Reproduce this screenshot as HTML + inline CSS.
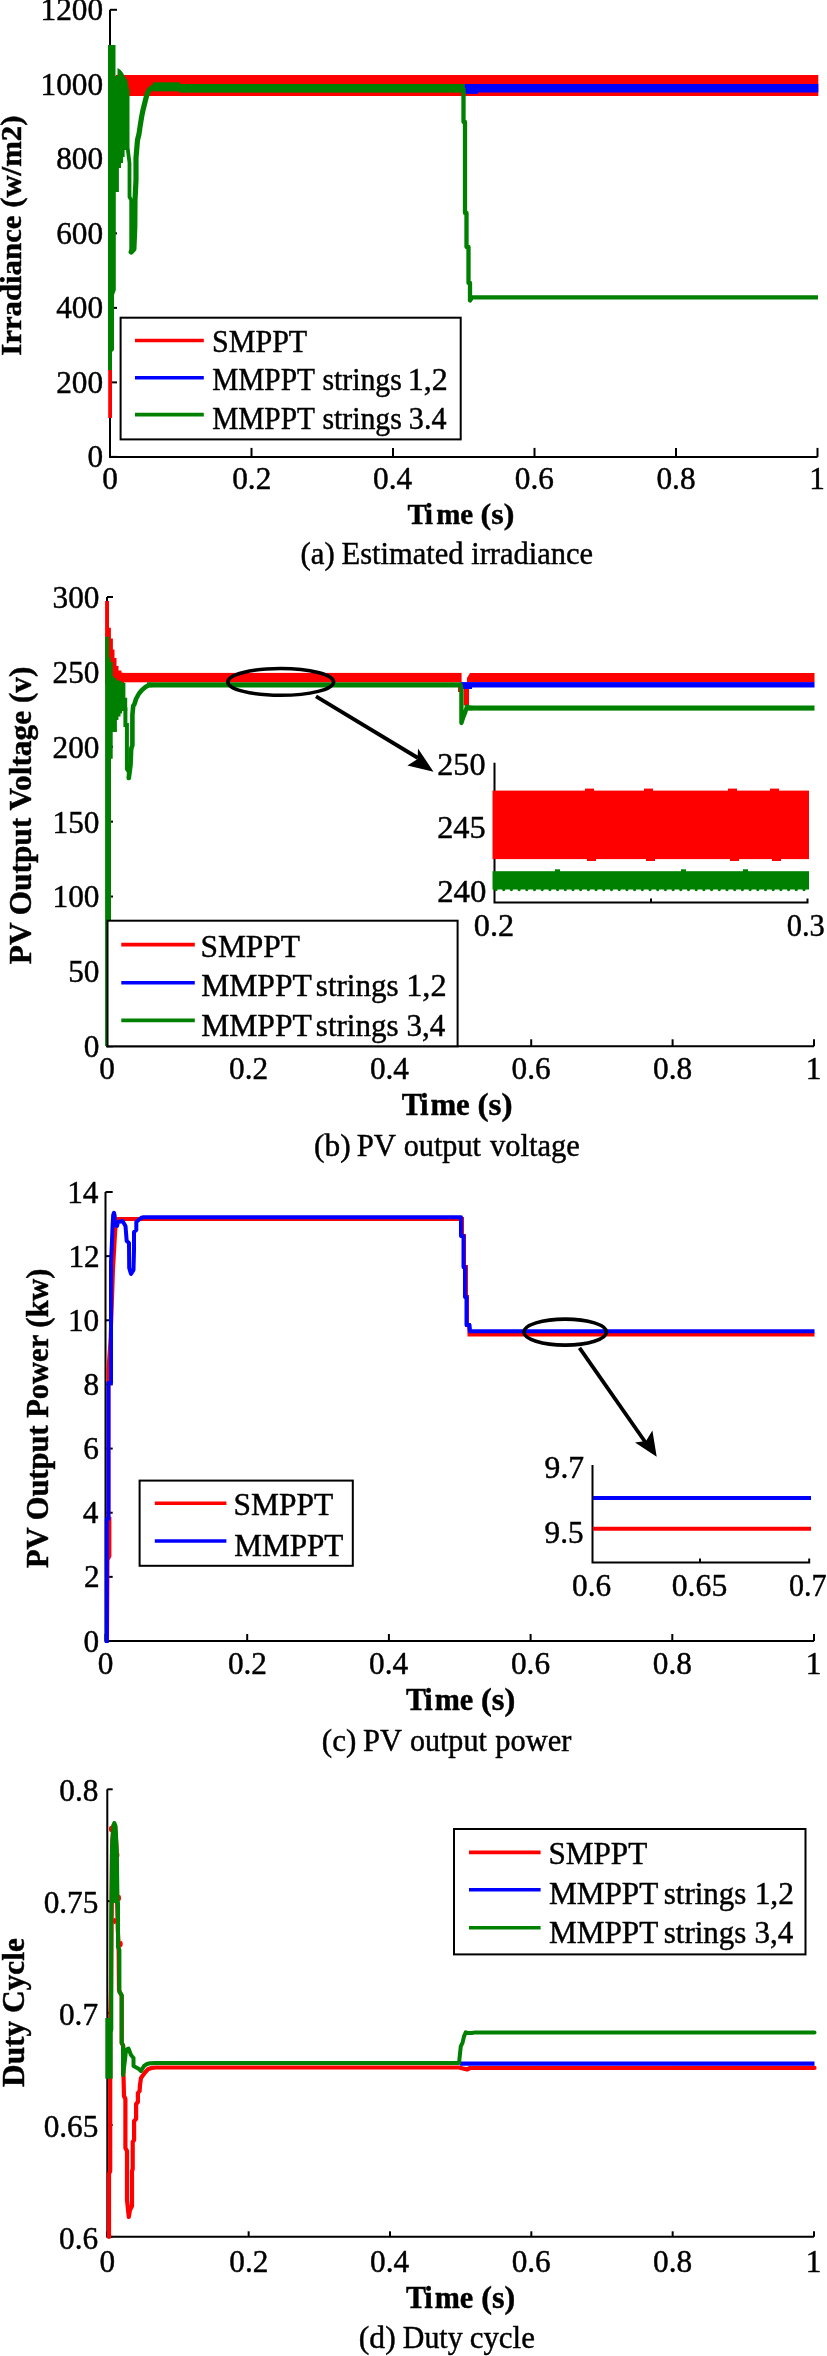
<!DOCTYPE html>
<html><head><meta charset="utf-8"><style>
html,body{margin:0;padding:0;background:#fff;}
svg{display:block;will-change:transform;}
text{font-family:"Liberation Serif",serif;fill:#000;stroke:#000;stroke-width:0.45px;}
</style></head><body>
<svg width="827" height="2356" viewBox="0 0 827 2356">
<rect x="0" y="0" width="827" height="2356" fill="#fff"/>
<path d="M110,9.8 L110,456.9 L817.5,456.9" fill="none" stroke="#000000" stroke-width="2" stroke-linejoin="miter"/>
<line x1="110.0" y1="456.9" x2="110.0" y2="447.9" stroke="#000000" stroke-width="2" stroke-linecap="butt"/>
<text x="102.17" y="488.70" font-size="31.30" textLength="15.65" lengthAdjust="spacingAndGlyphs">0</text>
<line x1="251.5" y1="456.9" x2="251.5" y2="447.9" stroke="#000000" stroke-width="2" stroke-linecap="butt"/>
<text x="232.20" y="488.70" font-size="31.30" textLength="39.12" lengthAdjust="spacingAndGlyphs">0.2</text>
<line x1="393.0" y1="456.9" x2="393.0" y2="447.9" stroke="#000000" stroke-width="2" stroke-linecap="butt"/>
<text x="373.09" y="488.70" font-size="31.30" textLength="39.12" lengthAdjust="spacingAndGlyphs">0.4</text>
<line x1="534.5" y1="456.9" x2="534.5" y2="447.9" stroke="#000000" stroke-width="2" stroke-linecap="butt"/>
<text x="514.81" y="488.70" font-size="31.30" textLength="39.12" lengthAdjust="spacingAndGlyphs">0.6</text>
<line x1="676.0" y1="456.9" x2="676.0" y2="447.9" stroke="#000000" stroke-width="2" stroke-linecap="butt"/>
<text x="656.44" y="488.70" font-size="31.30" textLength="39.13" lengthAdjust="spacingAndGlyphs">0.8</text>
<line x1="817.5" y1="456.9" x2="817.5" y2="447.9" stroke="#000000" stroke-width="2" stroke-linecap="butt"/>
<text x="809.24" y="488.70" font-size="31.30" textLength="15.65" lengthAdjust="spacingAndGlyphs">1</text>
<line x1="110" y1="456.9" x2="117" y2="456.9" stroke="#000000" stroke-width="2" stroke-linecap="butt"/>
<text x="87.44" y="467.15" font-size="31.30" textLength="15.65" lengthAdjust="spacingAndGlyphs">0</text>
<line x1="110" y1="382.38" x2="117" y2="382.38" stroke="#000000" stroke-width="2" stroke-linecap="butt"/>
<text x="56.14" y="392.63" font-size="31.30" textLength="46.95" lengthAdjust="spacingAndGlyphs">200</text>
<line x1="110" y1="307.87" x2="117" y2="307.87" stroke="#000000" stroke-width="2" stroke-linecap="butt"/>
<text x="56.14" y="318.12" font-size="31.30" textLength="46.95" lengthAdjust="spacingAndGlyphs">400</text>
<line x1="110" y1="233.35" x2="117" y2="233.35" stroke="#000000" stroke-width="2" stroke-linecap="butt"/>
<text x="56.14" y="243.60" font-size="31.30" textLength="46.95" lengthAdjust="spacingAndGlyphs">600</text>
<line x1="110" y1="158.83" x2="117" y2="158.83" stroke="#000000" stroke-width="2" stroke-linecap="butt"/>
<text x="56.14" y="169.08" font-size="31.30" textLength="46.95" lengthAdjust="spacingAndGlyphs">800</text>
<line x1="110" y1="84.32" x2="117" y2="84.32" stroke="#000000" stroke-width="2" stroke-linecap="butt"/>
<text x="40.49" y="94.57" font-size="31.30" textLength="62.60" lengthAdjust="spacingAndGlyphs">1000</text>
<line x1="110" y1="9.8" x2="117" y2="9.8" stroke="#000000" stroke-width="2" stroke-linecap="butt"/>
<text x="40.49" y="20.05" font-size="31.30" textLength="62.60" lengthAdjust="spacingAndGlyphs">1200</text>
<rect x="115.7" y="75" width="702.6" height="21" fill="#ff0000"/>
<rect x="464" y="84" width="354.3" height="8.5" fill="#0000ff"/>
<rect x="179" y="84" width="285.8" height="8.6" fill="#008000"/>
<rect x="153" y="82.3" width="27" height="9.1" fill="#008000"/>
<polygon points="108,45 115.5,45 115.5,76 117.5,76 117.5,68 120.6,70 123,73 125,77 127.3,80 128.5,88 129.5,90 129.5,150 124.6,150 124.6,157 123.1,157 123.1,163 121,163 121,168 118.9,168 118.9,192 115.8,192 115.8,290 114,295 114,350 112,352 112,370 108,370" fill="#008000"/>
<rect x="108.2" y="370" width="3.8" height="48" fill="#ff0000"/>
<polyline points="127.9,150 129.5,163 129.5,197 131.2,200 131.2,252" fill="none" stroke="#008000" stroke-width="3.8" stroke-linejoin="miter" stroke-linecap="round"/>
<polyline points="131.2,252 133.9,249 134.8,227 135,200 136,180 136,158 137.5,140 139,134 140,127 141.6,117 143,110 144.5,104 146,98 147.6,93 149.5,89.5 151.5,88 154,86.5 156,86.8" fill="none" stroke="#008000" stroke-width="5.2" stroke-linejoin="round" stroke-linecap="round"/>
<polyline points="463.5,88 463.5,122 465,122 465,213 466.5,213 466.5,247 468.5,247 468.5,283 470,283 470,300.5 472,297.4 818,297.4" fill="none" stroke="#008000" stroke-width="4.3" stroke-linejoin="round" stroke-linecap="butt"/>
<rect x="466" y="91" width="12" height="2.9" fill="#0000ff"/>
<path d="M107,597 L107,1046.3 L814,1046.3" fill="none" stroke="#000000" stroke-width="2" stroke-linejoin="miter"/>
<line x1="107.0" y1="1046.3" x2="107.0" y2="1039.3" stroke="#000000" stroke-width="2" stroke-linecap="butt"/>
<text x="99.17" y="1078.90" font-size="31.30" textLength="15.65" lengthAdjust="spacingAndGlyphs">0</text>
<line x1="248.4" y1="1046.3" x2="248.4" y2="1039.3" stroke="#000000" stroke-width="2" stroke-linecap="butt"/>
<text x="229.10" y="1078.90" font-size="31.30" textLength="39.13" lengthAdjust="spacingAndGlyphs">0.2</text>
<line x1="389.8" y1="1046.3" x2="389.8" y2="1039.3" stroke="#000000" stroke-width="2" stroke-linecap="butt"/>
<text x="369.89" y="1078.90" font-size="31.30" textLength="39.12" lengthAdjust="spacingAndGlyphs">0.4</text>
<line x1="531.2" y1="1046.3" x2="531.2" y2="1039.3" stroke="#000000" stroke-width="2" stroke-linecap="butt"/>
<text x="511.51" y="1078.90" font-size="31.30" textLength="39.12" lengthAdjust="spacingAndGlyphs">0.6</text>
<line x1="672.6" y1="1046.3" x2="672.6" y2="1039.3" stroke="#000000" stroke-width="2" stroke-linecap="butt"/>
<text x="653.04" y="1078.90" font-size="31.30" textLength="39.13" lengthAdjust="spacingAndGlyphs">0.8</text>
<line x1="814.0" y1="1046.3" x2="814.0" y2="1039.3" stroke="#000000" stroke-width="2" stroke-linecap="butt"/>
<text x="805.74" y="1078.90" font-size="31.30" textLength="15.65" lengthAdjust="spacingAndGlyphs">1</text>
<line x1="107" y1="1046.3" x2="113" y2="1046.3" stroke="#000000" stroke-width="2" stroke-linecap="butt"/>
<text x="83.84" y="1057.25" font-size="31.30" textLength="15.65" lengthAdjust="spacingAndGlyphs">0</text>
<line x1="107" y1="971.42" x2="113" y2="971.42" stroke="#000000" stroke-width="2" stroke-linecap="butt"/>
<text x="68.19" y="982.37" font-size="31.30" textLength="31.30" lengthAdjust="spacingAndGlyphs">50</text>
<line x1="107" y1="896.53" x2="113" y2="896.53" stroke="#000000" stroke-width="2" stroke-linecap="butt"/>
<text x="52.54" y="907.48" font-size="31.30" textLength="46.95" lengthAdjust="spacingAndGlyphs">100</text>
<line x1="107" y1="821.65" x2="113" y2="821.65" stroke="#000000" stroke-width="2" stroke-linecap="butt"/>
<text x="52.54" y="832.60" font-size="31.30" textLength="46.95" lengthAdjust="spacingAndGlyphs">150</text>
<line x1="107" y1="746.77" x2="113" y2="746.77" stroke="#000000" stroke-width="2" stroke-linecap="butt"/>
<text x="52.54" y="757.72" font-size="31.30" textLength="46.95" lengthAdjust="spacingAndGlyphs">200</text>
<line x1="107" y1="671.88" x2="113" y2="671.88" stroke="#000000" stroke-width="2" stroke-linecap="butt"/>
<text x="52.54" y="682.83" font-size="31.30" textLength="46.95" lengthAdjust="spacingAndGlyphs">250</text>
<line x1="107" y1="597.0" x2="113" y2="597.0" stroke="#000000" stroke-width="2" stroke-linecap="butt"/>
<text x="52.54" y="607.95" font-size="31.30" textLength="46.95" lengthAdjust="spacingAndGlyphs">300</text>
<rect x="123" y="672.9" width="338.6" height="9.4" fill="#ff0000"/>
<polygon points="467,682.3 467,678 470,672.9 814.5,672.9 814.5,682.3" fill="#ff0000"/>
<rect x="461" y="682.1" width="353.5" height="5.4" fill="#0000ff"/>
<rect x="463" y="687" width="9" height="2" fill="#0000ff"/>
<rect x="147" y="682.3" width="314" height="5.2" fill="#008000"/>
<rect x="468" y="705.5" width="346.5" height="5.1" fill="#008000"/>
<polygon points="105.1,601 109,601 109,627.7 110.9,627.7 110.9,638.5 112.9,638.5 112.9,649.4 114.5,649.4 114.5,658.1 116.5,658.1 116.5,666.1 118.5,666.1 118.5,670.5 121.5,670.5 121.5,672.6 124,672.9 124,683.5 105.1,683.5" fill="#ff0000"/>
<polygon points="105.1,636.7 109,636.7 109,657.4 110.5,657.4 110.5,662 112.7,662 112.7,676 113.8,676 113.8,678 116.5,678 116.5,680.5 120,680.5 120,681.6 122.5,681.6 122.5,682.7 125.4,682.7 125.4,697.7 127.2,697.7 127.2,711 122.1,711 122.1,713.4 120.5,713.4 120.5,716.4 118.4,716.4 118.4,720 116.9,720 116.9,732 112.7,732 112.7,758.8 111,758.8 111,1046 105.1,1046" fill="#008000"/>
<polyline points="125.4,708 125.4,725 126.9,725 126.9,769 128.8,772 128.8,778" fill="none" stroke="#008000" stroke-width="4" stroke-linejoin="miter" stroke-linecap="round"/>
<polyline points="128.8,778 130.5,765 131.2,749 132.4,745 132.4,715 133.2,706 134.5,704 136,699 139,693.5 142,690 145.5,687 149,685 152,685" fill="none" stroke="#008000" stroke-width="4.6" stroke-linejoin="round" stroke-linecap="round"/>
<rect x="463.6" y="689" width="5.4" height="16.5" fill="#ff0000"/>
<rect x="458" y="687" width="2.5" height="5" fill="#ff0000"/>
<polyline points="460.5,684.7 461.4,690 461.4,723 463,718 465,713 467,706.5 470,708 472,708" fill="none" stroke="#008000" stroke-width="4.3" stroke-linejoin="round" stroke-linecap="round"/>
<path d="M105.5,1192 L105.5,1641 L814,1641" fill="none" stroke="#000000" stroke-width="2" stroke-linejoin="miter"/>
<line x1="105.5" y1="1641" x2="105.5" y2="1634" stroke="#000000" stroke-width="2" stroke-linecap="butt"/>
<text x="97.67" y="1673.70" font-size="31.30" textLength="15.65" lengthAdjust="spacingAndGlyphs">0</text>
<line x1="247.2" y1="1641" x2="247.2" y2="1634" stroke="#000000" stroke-width="2" stroke-linecap="butt"/>
<text x="227.90" y="1673.70" font-size="31.30" textLength="39.12" lengthAdjust="spacingAndGlyphs">0.2</text>
<line x1="388.9" y1="1641" x2="388.9" y2="1634" stroke="#000000" stroke-width="2" stroke-linecap="butt"/>
<text x="368.99" y="1673.70" font-size="31.30" textLength="39.12" lengthAdjust="spacingAndGlyphs">0.4</text>
<line x1="530.6" y1="1641" x2="530.6" y2="1634" stroke="#000000" stroke-width="2" stroke-linecap="butt"/>
<text x="510.91" y="1673.70" font-size="31.30" textLength="39.12" lengthAdjust="spacingAndGlyphs">0.6</text>
<line x1="672.3" y1="1641" x2="672.3" y2="1634" stroke="#000000" stroke-width="2" stroke-linecap="butt"/>
<text x="652.74" y="1673.70" font-size="31.30" textLength="39.13" lengthAdjust="spacingAndGlyphs">0.8</text>
<line x1="814.0" y1="1641" x2="814.0" y2="1634" stroke="#000000" stroke-width="2" stroke-linecap="butt"/>
<text x="805.74" y="1673.70" font-size="31.30" textLength="15.65" lengthAdjust="spacingAndGlyphs">1</text>
<line x1="105.5" y1="1641.0" x2="112.7" y2="1641.0" stroke="#000000" stroke-width="2" stroke-linecap="butt"/>
<text x="83.54" y="1651.55" font-size="31.30" textLength="15.65" lengthAdjust="spacingAndGlyphs">0</text>
<line x1="105.5" y1="1576.86" x2="112.7" y2="1576.86" stroke="#000000" stroke-width="2" stroke-linecap="butt"/>
<text x="84.08" y="1587.41" font-size="31.30" textLength="15.65" lengthAdjust="spacingAndGlyphs">2</text>
<line x1="105.5" y1="1512.71" x2="112.7" y2="1512.71" stroke="#000000" stroke-width="2" stroke-linecap="butt"/>
<text x="82.84" y="1523.27" font-size="31.30" textLength="15.65" lengthAdjust="spacingAndGlyphs">4</text>
<line x1="105.5" y1="1448.57" x2="112.7" y2="1448.57" stroke="#000000" stroke-width="2" stroke-linecap="butt"/>
<text x="83.28" y="1459.12" font-size="31.30" textLength="15.65" lengthAdjust="spacingAndGlyphs">6</text>
<line x1="105.5" y1="1384.43" x2="112.7" y2="1384.43" stroke="#000000" stroke-width="2" stroke-linecap="butt"/>
<text x="83.54" y="1394.98" font-size="31.30" textLength="15.65" lengthAdjust="spacingAndGlyphs">8</text>
<line x1="105.5" y1="1320.29" x2="112.7" y2="1320.29" stroke="#000000" stroke-width="2" stroke-linecap="butt"/>
<text x="67.89" y="1330.84" font-size="31.30" textLength="31.30" lengthAdjust="spacingAndGlyphs">10</text>
<line x1="105.5" y1="1256.14" x2="112.7" y2="1256.14" stroke="#000000" stroke-width="2" stroke-linecap="butt"/>
<text x="68.43" y="1266.69" font-size="31.30" textLength="31.30" lengthAdjust="spacingAndGlyphs">12</text>
<line x1="105.5" y1="1192.0" x2="112.7" y2="1192.0" stroke="#000000" stroke-width="2" stroke-linecap="butt"/>
<text x="67.19" y="1202.55" font-size="31.30" textLength="31.30" lengthAdjust="spacingAndGlyphs">14</text>
<polyline points="107,1641 107.5,1560 109.4,1556 109.4,1519 108.5,1519 108.5,1369 110.5,1340 112,1300 113,1270 115,1235 116,1219 462,1219 462,1236 464,1236 464,1267 466,1267 466,1297 467,1297 467,1325 469,1325 469.5,1334.6 814.5,1334.6" fill="none" stroke="#ff0000" stroke-width="4" stroke-linejoin="miter" stroke-linecap="butt"/>
<polyline points="106.8,1643 106.8,1519 108.4,1519 108.4,1383 111,1383 111,1262 111.8,1245 112.6,1225 113.2,1215 114,1212.8 114.7,1216 114.5,1225 117,1226 118,1222 122.5,1221 125.5,1226 126.7,1241 129,1243 129.2,1268 131,1274 133.5,1270 134,1250 134,1232 136.3,1230 136.3,1222 139,1219.5 141,1218 143.5,1217.2 461,1217.2 461,1236 463.5,1236 463.5,1267 465,1267 465,1297 466.5,1297 466.5,1325 469.5,1325 470,1331.3 814.5,1331.3" fill="none" stroke="#0000ff" stroke-width="4" stroke-linejoin="round" stroke-linecap="butt"/>
<path d="M107.3,1789.3 L107.3,2236.8 L814,2236.8" fill="none" stroke="#000000" stroke-width="2" stroke-linejoin="miter"/>
<line x1="107.3" y1="2236.8" x2="107.3" y2="2231.3" stroke="#000000" stroke-width="2" stroke-linecap="butt"/>
<text x="99.47" y="2271.90" font-size="31.30" textLength="15.65" lengthAdjust="spacingAndGlyphs">0</text>
<line x1="248.64" y1="2236.8" x2="248.64" y2="2231.3" stroke="#000000" stroke-width="2" stroke-linecap="butt"/>
<text x="229.34" y="2271.90" font-size="31.30" textLength="39.12" lengthAdjust="spacingAndGlyphs">0.2</text>
<line x1="389.98" y1="2236.8" x2="389.98" y2="2231.3" stroke="#000000" stroke-width="2" stroke-linecap="butt"/>
<text x="370.07" y="2271.90" font-size="31.30" textLength="39.12" lengthAdjust="spacingAndGlyphs">0.4</text>
<line x1="531.32" y1="2236.8" x2="531.32" y2="2231.3" stroke="#000000" stroke-width="2" stroke-linecap="butt"/>
<text x="511.63" y="2271.90" font-size="31.30" textLength="39.12" lengthAdjust="spacingAndGlyphs">0.6</text>
<line x1="672.66" y1="2236.8" x2="672.66" y2="2231.3" stroke="#000000" stroke-width="2" stroke-linecap="butt"/>
<text x="653.10" y="2271.90" font-size="31.30" textLength="39.13" lengthAdjust="spacingAndGlyphs">0.8</text>
<line x1="814.0" y1="2236.8" x2="814.0" y2="2231.3" stroke="#000000" stroke-width="2" stroke-linecap="butt"/>
<text x="805.74" y="2271.90" font-size="31.30" textLength="15.65" lengthAdjust="spacingAndGlyphs">1</text>
<line x1="107.3" y1="2236.8" x2="112.7" y2="2236.8" stroke="#000000" stroke-width="2" stroke-linecap="butt"/>
<text x="59.01" y="2248.55" font-size="31.30" textLength="39.12" lengthAdjust="spacingAndGlyphs">0.6</text>
<line x1="107.3" y1="2124.93" x2="112.7" y2="2124.93" stroke="#000000" stroke-width="2" stroke-linecap="butt"/>
<text x="43.65" y="2136.68" font-size="31.30" textLength="54.77" lengthAdjust="spacingAndGlyphs">0.65</text>
<line x1="107.3" y1="2013.05" x2="112.7" y2="2013.05" stroke="#000000" stroke-width="2" stroke-linecap="butt"/>
<text x="58.98" y="2024.80" font-size="31.30" textLength="39.12" lengthAdjust="spacingAndGlyphs">0.7</text>
<line x1="107.3" y1="1901.17" x2="112.7" y2="1901.17" stroke="#000000" stroke-width="2" stroke-linecap="butt"/>
<text x="43.65" y="1912.93" font-size="31.30" textLength="54.77" lengthAdjust="spacingAndGlyphs">0.75</text>
<line x1="107.3" y1="1789.3" x2="112.7" y2="1789.3" stroke="#000000" stroke-width="2" stroke-linecap="butt"/>
<text x="59.27" y="1801.05" font-size="31.30" textLength="39.12" lengthAdjust="spacingAndGlyphs">0.8</text>
<polyline points="109,2237 109,2174 110.2,2171 110.2,2020 111,1990 111.5,1920 112,1850 113.2,1826 115,1826 116.3,1845 117,1897 117.8,1930 118.6,1944 119,1990 121.7,1996 121.7,2043 123.3,2046 123.5,2076 124,2096 125.4,2099 125.4,2148 127,2151 127,2200 128.8,2217 130,2210 132,2206 132,2171 132.7,2169 132.7,2142 134.1,2140 134.1,2121 136.1,2119 136.1,2104 137.9,2102 137.9,2093 139.6,2091 140,2085 141,2078 145,2072.5 148,2069.3 152,2067.8 156,2067.5 459,2067.5 463,2068.5 467,2069.5 470,2068 814.5,2067.9" fill="none" stroke="#ff0000" stroke-width="4.2" stroke-linejoin="round" stroke-linecap="round"/>
<polyline points="460,2063.6 814.5,2063.6" fill="none" stroke="#0000ff" stroke-width="4.4" stroke-linejoin="round" stroke-linecap="butt"/>
<ellipse cx="110.6" cy="1829" rx="1.6" ry="3" fill="#ff0000"/>
<ellipse cx="117.8" cy="1855" rx="1.6" ry="3" fill="#ff0000"/>
<ellipse cx="119.4" cy="1898" rx="1.6" ry="3" fill="#ff0000"/>
<ellipse cx="114.6" cy="1921" rx="1.6" ry="3" fill="#ff0000"/>
<ellipse cx="121.1" cy="1944" rx="1.6" ry="3" fill="#ff0000"/>
<polyline points="111.3,2030 111.3,1917 111.5,1901 112,1850 113.3,1826 114.3,1823 115.5,1826 116.8,1850 117.5,1900 118,1903 118,1947 119.4,1950 119.4,1992 121.7,1995 121.7,2043 123,2045 123,2075 125,2060 126,2050 128.5,2048.5 131,2055 133.5,2058 133.5,2066 139,2069 141,2071 144,2066 147,2064 150,2063.2 155,2063.1 459,2063.1 460.8,2046.3 462.6,2042.6 463.9,2036.6 465.7,2032.4 468,2033 472,2033 475,2032.4 814.5,2032.4" fill="none" stroke="#008000" stroke-width="4" stroke-linejoin="round" stroke-linecap="round"/>
<polygon points="110.6,1840 111.8,1827 114.3,1821.5 116.6,1827 117.6,1840 118.1,1903 113.2,1903 113.2,1916 110.6,1916" fill="#008000"/>
<rect x="105.3" y="2018" width="7.4" height="60.7" fill="#008000"/>
<ellipse cx="280.7" cy="681.9" rx="52.9" ry="13.4" fill="none" stroke="#000000" stroke-width="3.6"/>
<line x1="316" y1="696.4" x2="418" y2="758" stroke="#000000" stroke-width="3.8" stroke-linecap="butt"/>
<polygon points="433.5,771.7 418,748.5 417.6,759 407.4,765.6" fill="#000000"/>
<path d="M494.5,762.7 L494.5,902.6 L807.5,902.6 L807.5,898.6" fill="none" stroke="#000000" stroke-width="2"/>
<line x1="651" y1="902.6" x2="651" y2="898.6" stroke="#000000" stroke-width="2" stroke-linecap="butt"/>
<rect x="492.5" y="790.6" width="316.5" height="68.5" fill="#ff0000"/>
<rect x="492.5" y="871.2" width="316.5" height="18.3" fill="#008000"/>
<line x1="496" y1="889.6" x2="809" y2="889.6" stroke="#008000" stroke-width="3.2" stroke-linecap="round" stroke-dasharray="0 7.7"/>
<rect x="585" y="788.6" width="9" height="2.4" fill="#ff0000"/>
<rect x="587" y="858.5" width="9" height="2.5" fill="#ff0000"/>
<rect x="644" y="788.6" width="9" height="2.4" fill="#ff0000"/>
<rect x="646" y="858.5" width="9" height="2.5" fill="#ff0000"/>
<rect x="728" y="788.6" width="9" height="2.4" fill="#ff0000"/>
<rect x="730" y="858.5" width="9" height="2.5" fill="#ff0000"/>
<rect x="770" y="788.6" width="9" height="2.4" fill="#ff0000"/>
<rect x="772" y="858.5" width="9" height="2.5" fill="#ff0000"/>
<rect x="555" y="869.3" width="5" height="2.7" fill="#008000"/>
<rect x="681" y="869.3" width="5" height="2.7" fill="#008000"/>
<rect x="743" y="869.3" width="5" height="2.7" fill="#008000"/>
<text x="437.18" y="775.20" font-size="31.30" textLength="48.34" lengthAdjust="spacingAndGlyphs">250</text>
<text x="437.18" y="837.80" font-size="31.30" textLength="48.59" lengthAdjust="spacingAndGlyphs">245</text>
<text x="437.16" y="902.30" font-size="31.30" textLength="49.30" lengthAdjust="spacingAndGlyphs">240</text>
<text x="473.77" y="936.10" font-size="31.30" textLength="40.31" lengthAdjust="spacingAndGlyphs">0.2</text>
<text x="786.64" y="935.80" font-size="31.30" textLength="38.15" lengthAdjust="spacingAndGlyphs">0.3</text>
<ellipse cx="565.2" cy="1332.1" rx="41.3" ry="13" fill="none" stroke="#000000" stroke-width="3.6"/>
<line x1="579.5" y1="1347.9" x2="648" y2="1446" stroke="#000000" stroke-width="3.8" stroke-linecap="butt"/>
<polygon points="656.7,1456.7 652.4,1430.6 646,1441 635,1442.6" fill="#000000"/>
<path d="M592.5,1465 L592.5,1562.6 L809.2,1562.6 L809.2,1558.6" fill="none" stroke="#000000" stroke-width="2"/>
<line x1="700" y1="1562.6" x2="700" y2="1558.6" stroke="#000000" stroke-width="2" stroke-linecap="butt"/>
<line x1="593" y1="1497.9" x2="811" y2="1497.9" stroke="#0000ff" stroke-width="4" stroke-linecap="butt"/>
<line x1="593" y1="1528.8" x2="811" y2="1528.8" stroke="#ff0000" stroke-width="4" stroke-linecap="butt"/>
<text x="544.58" y="1477.70" font-size="32.00" textLength="39.53" lengthAdjust="spacingAndGlyphs">9.7</text>
<text x="544.59" y="1542.50" font-size="32.00" textLength="39.03" lengthAdjust="spacingAndGlyphs">9.5</text>
<text x="572.01" y="1596.20" font-size="31.50" textLength="39.12" lengthAdjust="spacingAndGlyphs">0.6</text>
<text x="671.79" y="1596.20" font-size="31.50" textLength="55.44" lengthAdjust="spacingAndGlyphs">0.65</text>
<text x="789.05" y="1596.40" font-size="31.50" textLength="37.61" lengthAdjust="spacingAndGlyphs">0.7</text>
<rect x="120.6" y="317.7" width="340.1" height="121.7" fill="#fff" stroke="#000000" stroke-width="2"/>
<line x1="135" y1="340.5" x2="203.8" y2="340.5" stroke="#ff0000" stroke-width="3.6" stroke-linecap="butt"/>
<line x1="135" y1="377.7" x2="203.8" y2="377.7" stroke="#0000ff" stroke-width="3.6" stroke-linecap="butt"/>
<line x1="135" y1="414.6" x2="203.8" y2="414.6" stroke="#008000" stroke-width="3.6" stroke-linecap="butt"/>
<text x="211.99" y="352.20" font-size="30.50" textLength="95.21" lengthAdjust="spacingAndGlyphs">SMPPT</text>
<text x="212.15" y="389.60" font-size="30.50" textLength="102.83" lengthAdjust="spacingAndGlyphs">MMPPT</text>
<text x="322.38" y="389.60" font-size="30.50" textLength="79.40" lengthAdjust="spacingAndGlyphs">strings</text>
<text x="407.79" y="389.60" font-size="30.50" textLength="39.98" lengthAdjust="spacingAndGlyphs">1,2</text>
<text x="212.15" y="428.50" font-size="30.50" textLength="102.83" lengthAdjust="spacingAndGlyphs">MMPPT</text>
<text x="322.38" y="428.50" font-size="30.50" textLength="79.40" lengthAdjust="spacingAndGlyphs">strings</text>
<text x="408.86" y="428.50" font-size="30.50" textLength="37.61" lengthAdjust="spacingAndGlyphs">3.4</text>
<rect x="107.5" y="920.7" width="350.1" height="125.6" fill="#fff" stroke="#000000" stroke-width="2"/>
<line x1="121.3" y1="944.6" x2="194.8" y2="944.6" stroke="#ff0000" stroke-width="3.6" stroke-linecap="butt"/>
<line x1="121.3" y1="982.7" x2="194.8" y2="982.7" stroke="#0000ff" stroke-width="3.6" stroke-linecap="butt"/>
<line x1="121.3" y1="1020.4" x2="194.8" y2="1020.4" stroke="#008000" stroke-width="3.6" stroke-linecap="butt"/>
<text x="200.40" y="956.80" font-size="32.50" textLength="99.63" lengthAdjust="spacingAndGlyphs">SMPPT</text>
<text x="201.19" y="996.20" font-size="32.50" textLength="110.63" lengthAdjust="spacingAndGlyphs">MMPPT</text>
<text x="315.83" y="996.20" font-size="32.50" textLength="82.69" lengthAdjust="spacingAndGlyphs">strings</text>
<text x="406.16" y="996.20" font-size="32.50" textLength="40.43" lengthAdjust="spacingAndGlyphs">1,2</text>
<text x="201.19" y="1035.60" font-size="32.50" textLength="110.63" lengthAdjust="spacingAndGlyphs">MMPPT</text>
<text x="315.83" y="1035.60" font-size="32.50" textLength="82.69" lengthAdjust="spacingAndGlyphs">strings</text>
<text x="406.52" y="1035.60" font-size="32.50" textLength="38.77" lengthAdjust="spacingAndGlyphs">3,4</text>
<rect x="139.6" y="1480.6" width="213.2" height="85.2" fill="#fff" stroke="#000000" stroke-width="2"/>
<line x1="154.8" y1="1503.2" x2="226.4" y2="1503.2" stroke="#ff0000" stroke-width="3.6" stroke-linecap="butt"/>
<line x1="154.8" y1="1541" x2="226.4" y2="1541" stroke="#0000ff" stroke-width="3.6" stroke-linecap="butt"/>
<text x="233.60" y="1514.90" font-size="31.30" textLength="99.63" lengthAdjust="spacingAndGlyphs">SMPPT</text>
<text x="234.30" y="1555.70" font-size="31.30" textLength="109.12" lengthAdjust="spacingAndGlyphs">MMPPT</text>
<rect x="454" y="1829" width="351.5" height="125.4" fill="#fff" stroke="#000000" stroke-width="2"/>
<line x1="469" y1="1852.4" x2="540.6" y2="1852.4" stroke="#ff0000" stroke-width="3.6" stroke-linecap="butt"/>
<line x1="469" y1="1889.8" x2="540.6" y2="1889.8" stroke="#0000ff" stroke-width="3.6" stroke-linecap="butt"/>
<line x1="469" y1="1927.7" x2="540.6" y2="1927.7" stroke="#008000" stroke-width="3.6" stroke-linecap="butt"/>
<text x="548.41" y="1864.10" font-size="32.00" textLength="98.80" lengthAdjust="spacingAndGlyphs">SMPPT</text>
<text x="548.90" y="1904.10" font-size="32.00" textLength="109.32" lengthAdjust="spacingAndGlyphs">MMPPT</text>
<text x="663.83" y="1904.10" font-size="32.00" textLength="82.49" lengthAdjust="spacingAndGlyphs">strings</text>
<text x="754.64" y="1904.10" font-size="32.00" textLength="39.30" lengthAdjust="spacingAndGlyphs">1,2</text>
<text x="548.90" y="1943.30" font-size="32.00" textLength="109.32" lengthAdjust="spacingAndGlyphs">MMPPT</text>
<text x="663.83" y="1943.30" font-size="32.00" textLength="82.49" lengthAdjust="spacingAndGlyphs">strings</text>
<text x="754.52" y="1943.30" font-size="32.00" textLength="38.77" lengthAdjust="spacingAndGlyphs">3,4</text>
<text x="407.55" y="523.80" font-size="29.60" font-weight="bold" textLength="19.34" lengthAdjust="spacingAndGlyphs">T</text>
<text x="424.82" y="523.80" font-size="29.60" font-weight="bold" textLength="8.22" lengthAdjust="spacingAndGlyphs">i</text>
<text x="436.22" y="523.80" font-size="29.60" font-weight="bold" textLength="37.03" lengthAdjust="spacingAndGlyphs">me</text>
<text x="480.60" y="523.80" font-size="29.60" font-weight="bold" textLength="33.71" lengthAdjust="spacingAndGlyphs">(s)</text>
<text x="401.83" y="1114.80" font-size="31.00" font-weight="bold" textLength="20.26" lengthAdjust="spacingAndGlyphs">T</text>
<text x="419.95" y="1114.80" font-size="31.00" font-weight="bold" textLength="8.61" lengthAdjust="spacingAndGlyphs">i</text>
<text x="430.47" y="1114.80" font-size="31.00" font-weight="bold" textLength="39.32" lengthAdjust="spacingAndGlyphs">me</text>
<text x="477.44" y="1114.80" font-size="31.00" font-weight="bold" textLength="35.13" lengthAdjust="spacingAndGlyphs">(s)</text>
<text x="406.03" y="1709.80" font-size="30.50" font-weight="bold" textLength="19.93" lengthAdjust="spacingAndGlyphs">T</text>
<text x="424.18" y="1709.80" font-size="30.50" font-weight="bold" textLength="8.47" lengthAdjust="spacingAndGlyphs">i</text>
<text x="434.69" y="1709.80" font-size="30.50" font-weight="bold" textLength="38.59" lengthAdjust="spacingAndGlyphs">me</text>
<text x="480.97" y="1709.80" font-size="30.50" font-weight="bold" textLength="34.36" lengthAdjust="spacingAndGlyphs">(s)</text>
<text x="406.03" y="2307.80" font-size="30.50" font-weight="bold" textLength="19.93" lengthAdjust="spacingAndGlyphs">T</text>
<text x="424.18" y="2307.80" font-size="30.50" font-weight="bold" textLength="8.47" lengthAdjust="spacingAndGlyphs">i</text>
<text x="434.69" y="2307.80" font-size="30.50" font-weight="bold" textLength="38.59" lengthAdjust="spacingAndGlyphs">me</text>
<text x="481.28" y="2307.80" font-size="30.50" font-weight="bold" textLength="34.03" lengthAdjust="spacingAndGlyphs">(s)</text>
<text x="300.45" y="564.10" font-size="31.00" textLength="34.21" lengthAdjust="spacingAndGlyphs">(a)</text>
<text x="341.52" y="564.10" font-size="31.00" textLength="122.05" lengthAdjust="spacingAndGlyphs">Estimated</text>
<text x="471.26" y="564.10" font-size="31.00" textLength="121.69" lengthAdjust="spacingAndGlyphs">irradiance</text>
<text x="314.12" y="1155.90" font-size="31.00" textLength="36.66" lengthAdjust="spacingAndGlyphs">(b)</text>
<text x="356.71" y="1155.90" font-size="31.00" textLength="39.33" lengthAdjust="spacingAndGlyphs">PV</text>
<text x="403.65" y="1155.90" font-size="31.00" textLength="77.33" lengthAdjust="spacingAndGlyphs">output</text>
<text x="489.90" y="1155.90" font-size="31.00" textLength="89.96" lengthAdjust="spacingAndGlyphs">voltage</text>
<text x="321.84" y="1750.90" font-size="31.00" textLength="34.43" lengthAdjust="spacingAndGlyphs">(c)</text>
<text x="363.12" y="1750.90" font-size="31.00" textLength="38.92" lengthAdjust="spacingAndGlyphs">PV</text>
<text x="409.96" y="1750.90" font-size="31.00" textLength="76.82" lengthAdjust="spacingAndGlyphs">output</text>
<text x="495.21" y="1750.90" font-size="31.00" textLength="76.16" lengthAdjust="spacingAndGlyphs">power</text>
<text x="358.81" y="2348.30" font-size="31.00" textLength="36.88" lengthAdjust="spacingAndGlyphs">(d)</text>
<text x="402.84" y="2348.30" font-size="31.00" textLength="59.78" lengthAdjust="spacingAndGlyphs">Duty</text>
<text x="469.72" y="2348.30" font-size="31.00" textLength="65.15" lengthAdjust="spacingAndGlyphs">cycle</text>
<text x="-355.74" y="20.80" font-size="30.00" font-weight="bold" transform="rotate(-90)" textLength="240.19" lengthAdjust="spacingAndGlyphs">Irradiance (w/m2)</text>
<text x="-964.23" y="31.20" font-size="31.50" font-weight="bold" transform="rotate(-90)" textLength="297.58" lengthAdjust="spacingAndGlyphs">PV Output Voltage (v)</text>
<text x="-1568.02" y="47.70" font-size="31.00" font-weight="bold" transform="rotate(-90)" textLength="299.55" lengthAdjust="spacingAndGlyphs">PV Output Power (kw)</text>
<text x="-2086.95" y="23.80" font-size="31.00" font-weight="bold" transform="rotate(-90)" textLength="148.76" lengthAdjust="spacingAndGlyphs">Duty Cycle</text>
</svg></body></html>
